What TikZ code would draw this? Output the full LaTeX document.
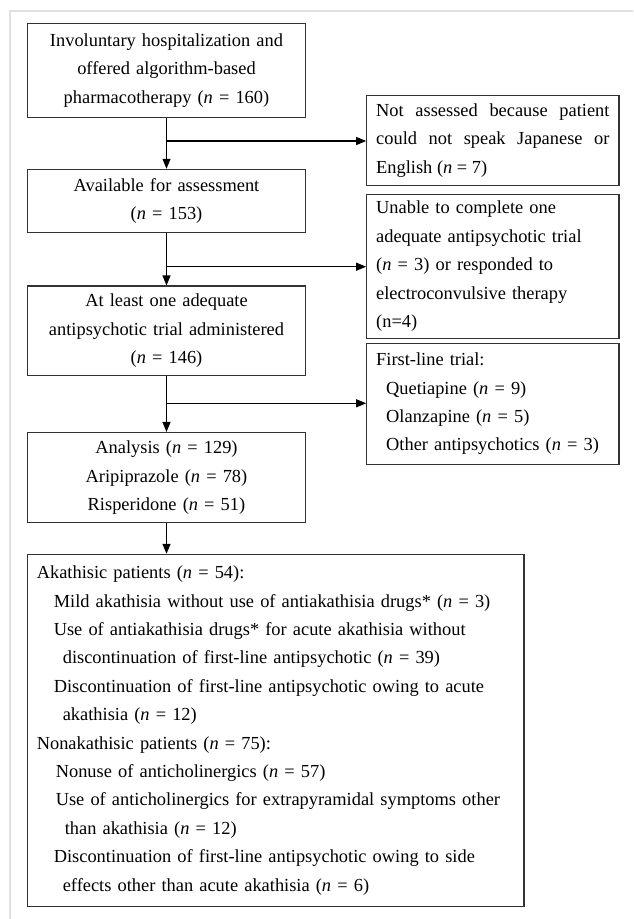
\documentclass[tikz,border=0pt]{standalone}
\usepackage{fontspec}
\setmainfont{Liberation Serif}
\usetikzlibrary{arrows.meta}
\tolerance=9999
\hyphenpenalty=10000

\begin{document}
\begin{tikzpicture}[x=1pt, y=-1pt, >={Triangle[length=10pt, width=8pt]},
  box/.style={draw=black!80, line width=1.1pt, inner xsep=9.5pt, inner ysep=0pt,
    font=\fontsize{18.4}{28.4}\selectfont},
  flow/.style={->, line width=1.2pt}]
  \useasboundingbox (0,0) rectangle (633,919);

  % Light frame (top and left)
  \draw[black!12, line width=2pt] (10,919) -- (10,11) -- (633,11);

  % Main column
  \node[box, minimum width=278.4pt, minimum height=94pt, text width=259.4pt,
    align=center] (start) at (166.5,70.3)
    {Involuntary hospitalization and\\ offered algorithm-based\\
     pharmacotherapy (\textit{n} = 160)};
  \node[box, minimum width=278.4pt, minimum height=63pt, text width=259.4pt,
    align=center] (avail) at (166.5,200.8)
    {Available for assessment\\ (\textit{n} = 153)};
  \node[box, minimum width=278.4pt, minimum height=89.5pt, text width=259.4pt,
    align=center] (trial) at (166.5,330.75)
    {At least one adequate\\ antipsychotic trial administered\\ (\textit{n} = 146)};
  \node[box, minimum width=278.4pt, minimum height=90.2pt, text width=259.4pt,
    align=center] (analysis) at (166.5,477.6)
    {Analysis (\textit{n} = 129)\\ Aripiprazole (\textit{n} = 78)\\
     Risperidone (\textit{n} = 51)};

  % Outcome box
  \node[box, minimum width=496.7pt, minimum height=352.4pt, text width=477.7pt,
    align=left] (outcome) at (275.65,730.5)
    {Akathisic patients (\textit{n} = 54):\\
     \hspace*{17pt}Mild akathisia without use of antiakathisia drugs* (\textit{n} = 3)\\
     \hspace*{17pt}Use of antiakathisia drugs* for acute akathisia without\\
     \hspace*{26pt}discontinuation of first-line antipsychotic (\textit{n} = 39)\\
     \hspace*{17pt}Discontinuation of first-line antipsychotic owing to acute\\
     \hspace*{26pt}akathisia (\textit{n} = 12)\\
     Nonakathisic patients (\textit{n} = 75):\\
     \hspace*{19pt}Nonuse of anticholinergics (\textit{n} = 57)\\
     \hspace*{19pt}Use of anticholinergics for extrapyramidal symptoms other\\
     \hspace*{28pt}than akathisia (\textit{n} = 12)\\
     \hspace*{17pt}Discontinuation of first-line antipsychotic owing to side\\
     \hspace*{26pt}effects other than acute akathisia (\textit{n} = 6)};

  % Exclusion boxes (right column)
  \node[box, minimum width=252.3pt, minimum height=90pt, text width=233.3pt,
    align=justify] (excl) at (492.85,140.5)
    {Not assessed because patient could not speak Japanese or
     \mbox{English} (\textit{n} = 7)};
  \node[box, minimum width=252.3pt, minimum height=144pt, text width=233.3pt,
    align=left] (unable) at (492.85,266.3)
    {Unable to complete one\\ adequate antipsychotic trial\\
     (\textit{n} = 3) or responded to\\ electroconvulsive therapy\\ (n=4)};
  \node[box, minimum width=252.3pt, minimum height=121pt, text width=233.3pt,
    align=left] (firstline) at (492.85,403.8)
    {First-line trial:\\
     \hspace*{10pt}Quetiapine (\textit{n} = 9)\\
     \hspace*{10pt}Olanzapine (\textit{n} = 5)\\
     \hspace*{10pt}Other antipsychotics (\textit{n} = 3)};

  % Branch points
  \coordinate (j1) at (166.5,141);
  \coordinate (j2) at (166.5,266.7);
  \coordinate (j3) at (166.5,403.3);

  % Arrows
  \draw[flow] (start) -- (avail);
  \draw[flow] (avail) -- (trial);
  \draw[flow] (trial) -- (analysis);
  \draw[flow] (analysis.south) -- (analysis.south |- outcome.north);
  \draw[flow] (j1) -- (j1 -| excl.west);
  \draw[flow] (j2) -- (j2 -| unable.west);
  \draw[flow] (j3) -- (j3 -| firstline.west);

\end{tikzpicture}
\end{document}
